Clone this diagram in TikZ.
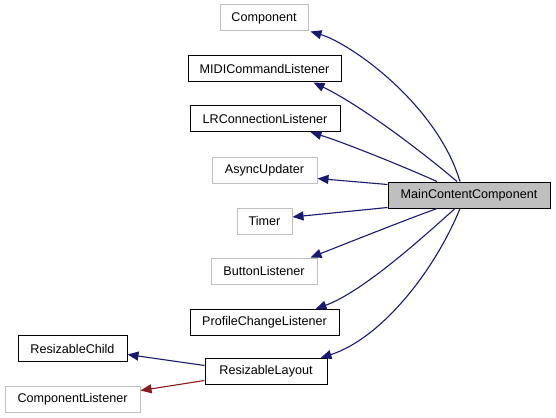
\documentclass[tikz,border=0pt]{standalone}
\usepackage{fontspec}
\setmainfont{Liberation Sans}
\usetikzlibrary{arrows.meta}
\definecolor{edgeblue}{HTML}{191970}
\definecolor{edgered}{HTML}{8B1A1A}
\definecolor{boxgrey}{HTML}{BFBFBF}
\begin{document}
\begin{tikzpicture}[x=1pt,y=-1pt,
  cls/.style={draw=black,line width=1pt,fill=white,minimum height=26pt,inner sep=0pt,
    font=\fontsize{12.6}{15}\selectfont},
  ext/.style={cls,draw=boxgrey,line width=1pt},
  mainbox/.style={cls,fill=boxgrey},
  inh/.style={draw=edgeblue,line width=1.1pt,-{Triangle[length=11pt,width=9pt]}},
  inhred/.style={inh,draw=edgered,-{Triangle[length=11pt,width=9pt]}},
]
\useasboundingbox (0,0) rectangle (556,417);
\node[ext,minimum width=88pt] (comp) at (264,18) {Component};
\node[cls,minimum width=153pt] (midi) at (264.5,69) {MIDICommandListener};
\node[cls,minimum width=150pt] (lr) at (265,118.5) {LRConnectionListener};
\node[ext,minimum width=105pt] (async) at (264.5,170) {AsyncUpdater};
\node[ext,minimum width=55pt] (timer) at (264.5,221) {Timer};
\node[ext,minimum width=106pt] (button) at (264,271) {ButtonListener};
\node[cls,minimum width=149pt] (profile) at (264.5,322.5) {ProfileChangeListener};
\node[cls,minimum width=122pt] (layout) at (266,371.5) {ResizableLayout};
\node[cls,minimum width=109pt] (child) at (72.5,348.5) {ResizableChild};
\node[ext,minimum width=135pt] (cl) at (72.5,399.5) {ComponentListener};
\node[mainbox,minimum width=162pt] (main) at (469,195) {MainContentComponent};

\draw[inh] ([xshift=-9pt]main.north) .. controls (437,105) and (352,44) .. ([xshift=2pt]comp.south east);
\draw[inh] ([xshift=-12pt]main.north) .. controls (420,150) and (360,105) .. ([xshift=-28pt]midi.south east);
\draw[inh] ([xshift=-32pt]main.north) .. controls (400,165) and (345,143) .. ([xshift=-30pt]lr.south east);
\draw[inh] ([yshift=-3pt]main.north west) -- ([yshift=5pt]async.south east);
\draw[inh] ([yshift=1pt]main.south west) -- ([yshift=4pt]timer.east);
\draw[inh] ([xshift=-32pt]main.south) .. controls (400,222) and (350,242) .. ([xshift=-7pt]button.north east);
\draw[inh] ([xshift=-14pt]main.south) .. controls (420,240) and (362,292) .. ([xshift=-24pt]profile.north east);
\draw[inh] ([xshift=-9pt]main.south) .. controls (435,270) and (382,338) .. ([xshift=-7pt]layout.north east);
\draw[inh] ([yshift=6pt]layout.west) -- ([yshift=-6pt]child.east);
\draw[inhred] ([yshift=-9pt]layout.west) -- ([yshift=9pt]cl.east);
\end{tikzpicture}
\end{document}
